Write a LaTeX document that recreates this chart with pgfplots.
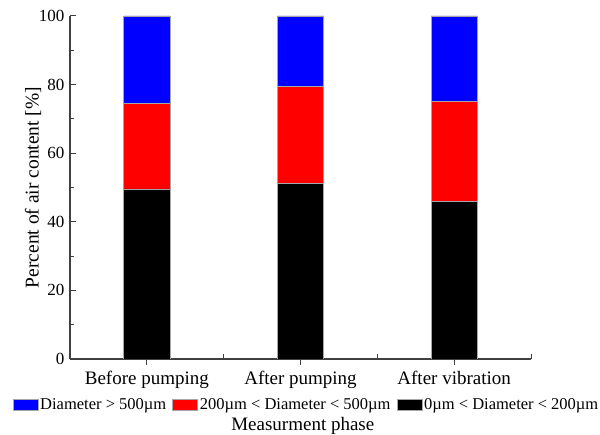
\documentclass[border=0pt]{standalone}
\usepackage{fontspec}
\setmainfont{Liberation Serif}
\usepackage{pgfplots}
\pgfplotsset{compat=1.18}
\begin{document}
\begin{tikzpicture}[x=1pt,y=1pt]
\useasboundingbox (-70,-76) rectangle (530,359);
\begin{axis}[
  at={(0,0)}, anchor=south west,
  width=461pt, height=343pt, scale only axis,
  ybar stacked, bar width=0.3,
  xmin=-0.5, xmax=2.5, ymin=0, ymax=100,
  axis x line*=bottom, axis y line*=left,
  axis line style={black!75, line width=1.2pt, -},
  xtick={0,1,2},
  xticklabels={Before pumping, After pumping, After vibration},
  x tick label style={font=\fontsize{19}{22}\selectfont, yshift=-3pt},
  xtick align=outside,
  extra x ticks={0.5,1.5,2.5},
  extra x tick labels={},
  extra x tick style={tick align=inside, major tick length=5pt},
  ytick={0,20,40,60,80,100},
  minor y tick num=1,
  ytick align=inside,
  major tick length=6pt, minor tick length=4pt,
  tick style={black!75, line width=1pt},
  y tick label style={font=\fontsize{17}{20}\selectfont, xshift=-2pt},
  /pgf/number format/assume math mode=true,
  ylabel={Percent of air content [\%]},
  every axis y label/.style={at={(axis description cs:-0.080,0.5)}, rotate=90, anchor=center, font=\fontsize{19.5}{22}\selectfont},
  xlabel={Measurment phase},
  every axis x label/.style={at={(axis description cs:0.505,0)}, anchor=center, yshift=-67pt, font=\fontsize{19}{22}\selectfont},
  reverse legend,
  legend columns=3,
  legend style={draw=none, fill=none, at={(0.513,-0.134)}, anchor=center,
    font=\fontsize{16.5}{20}\selectfont, inner sep=0pt,
    /tikz/every even column/.append style={column sep=4pt}},
  legend image code/.code={\fill[#1] (0pt,-5.5pt) rectangle (25pt,6pt);},
]
\addplot[fill=black, draw=gray!70, line width=0.6pt] coordinates {(0,49.6) (1,51.2) (2,45.9)};
\addplot[fill=red, draw=gray!70, line width=0.6pt] coordinates {(0,25.0) (1,28.2) (2,29.3)};
\addplot[fill=blue, draw=gray!70, line width=0.6pt] coordinates {(0,25.4) (1,20.6) (2,24.8)};
\legend{0µm < Diameter < 200µm, 200µm < Diameter < 500µm, Diameter > 500µm}
\end{axis}
\end{tikzpicture}
\end{document}
